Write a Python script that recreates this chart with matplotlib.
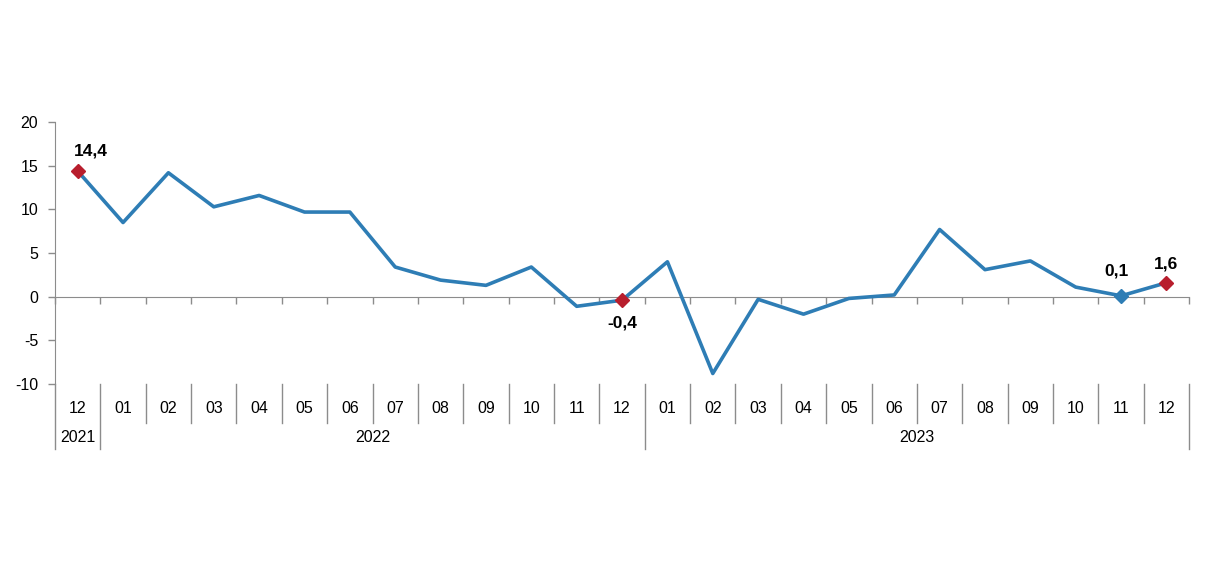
import matplotlib
matplotlib.use("Agg")
import matplotlib.pyplot as plt
import matplotlib.transforms as mtransforms
import numpy as np

plt.rcParams['font.family'] = ['Liberation Sans', 'DejaVu Sans']
plt.rcParams['axes.unicode_minus'] = False

# aylar ve degerler
aylar = ['12', '01', '02', '03', '04', '05', '06', '07', '08', '09', '10', '11', '12',
         '01', '02', '03', '04', '05', '06', '07', '08', '09', '10', '11', '12']
yillar = ['2021', '2022', '2023']
yil_uzunluk = [1, 12, 12]
degerler = [14.4, 8.5, 14.2, 10.3, 11.6, 9.7, 9.7, 3.4, 1.9, 1.3, 3.4, -1.1, -0.4,
            4.0, -8.8, -0.3, -2.0, -0.2, 0.2, 7.7, 3.1, 4.1, 1.1, 0.1, 1.6]
kirmizi_idx = [0, 12, 24]
mavi_idx = [23]

cizgi_renk = '#2E7DB5'
kirmizi = '#B81E2D'
gri = '#8C8C8C'

fig = plt.figure(figsize=(12.06, 5.63), dpi=100)
ax = fig.add_axes([0.0456, 0.318, 0.9404, 0.465])

x = np.arange(len(degerler))
ax.plot(x, degerler, color=cizgi_renk, lw=2.6, zorder=3)
ax.plot(x[kirmizi_idx], np.array(degerler)[kirmizi_idx], 'D', color=kirmizi, ms=7, zorder=4)
ax.plot(x[mavi_idx], np.array(degerler)[mavi_idx], 'D', color=cizgi_renk, ms=7, zorder=4)

ax.set_xlim(-0.5, len(degerler) - 0.5)
ax.set_ylim(-10, 20)
ax.set_yticks([-10, -5, 0, 5, 10, 15, 20])
ax.tick_params(axis='y', colors=gri, labelcolor='black', labelsize=11.5, length=5, width=1, pad=7)

for s in ['top', 'right']:
    ax.spines[s].set_visible(False)
ax.spines['bottom'].set_position(('data', 0))
ax.spines['bottom'].set_color(gri)
ax.spines['left'].set_color(gri)
ax.set_xticks(np.arange(-0.5, len(degerler), 1.0))
ax.set_xticklabels([])
ax.tick_params(axis='x', colors=gri, direction='out', length=5, width=1)

# etiketler
etiket_kw = dict(fontsize=12.5, fontweight='bold', ha='center')
ax.text(0.3, degerler[0] + 1.4, '14,4', va='bottom', **etiket_kw)
ax.text(12, degerler[12] - 1.7, '-0,4', va='top', **etiket_kw)
ax.text(22.9, degerler[23] + 2.0, '0,1', va='bottom', **etiket_kw)
ax.text(24, degerler[24] + 1.3, '1,6', va='bottom', **etiket_kw)

# kategori eksenleri
tr = mtransforms.blended_transform_factory(ax.transData, ax.transAxes)
for i, a in enumerate(aylar):
    ax.text(i, -0.095, a, transform=tr, ha='center', va='center', fontsize=11.5)

sinirlar = np.cumsum([0] + yil_uzunluk) - 0.5
for b in np.arange(-0.5, len(degerler), 1.0):
    alt = -0.25 if b in sinirlar else -0.15
    ax.plot([b, b], [0.0, alt], transform=tr, color=gri, lw=1, clip_on=False)

for j, y in enumerate(yillar):
    orta = (sinirlar[j] + sinirlar[j + 1]) / 2
    ax.text(orta, -0.205, y, transform=tr, ha='center', va='center', fontsize=11.5)

fig.savefig('out.png', dpi=100)
